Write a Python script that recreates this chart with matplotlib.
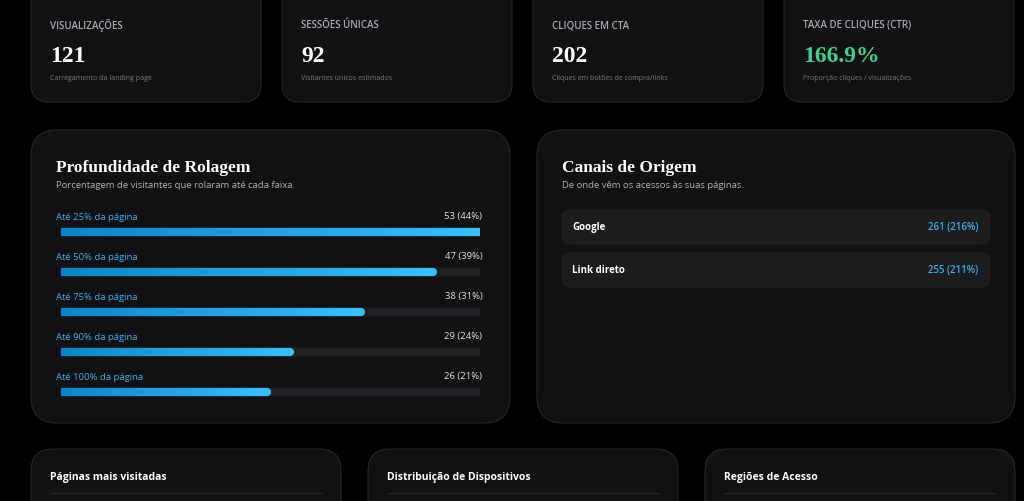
import matplotlib
matplotlib.use("Agg")
import matplotlib.pyplot as plt
from matplotlib.patches import FancyBboxPatch
import numpy as np

kpi_labels = ["VISUALIZAÇÕES", "SESSÕES ÚNICAS", "CLIQUES EM CTA", "TAXA DE CLIQUES (CTR)"]
kpi_values = ["121", "92", "202", "166.9%"]
kpi_notes = ["Carregamento da landing page", "Visitantes únicos estimados",
             "Cliques em botões de compra/links", "Proporção cliques / visualizações"]
scroll_labels = ["Até 25% da página", "Até 50% da página", "Até 75% da página",
                 "Até 90% da página", "Até 100% da página"]
scroll_counts = [53, 47, 38, 29, 26]
scroll_pcts = [44, 39, 31, 24, 21]
channels = ["Google", "Link direto"]
channel_counts = [261, 255]
channel_pcts = [216, 211]
bottom_titles = ["Páginas mais visitadas", "Distribuição de Dispositivos", "Regiões de Acesso"]

W, H = 1024, 502
fig = plt.figure(figsize=(W/100, H/100), dpi=100, facecolor="#000000")
ax = fig.add_axes([0, 0, 1, 1])
ax.set_xlim(0, W); ax.set_ylim(H, 0); ax.axis("off")
ax.set_facecolor("#000000")

SANS = ["Open Sans", "DejaVu Sans"]
SERIF = ["Liberation Serif", "DejaVu Serif"]

def card(x0, y0, x1, y1, r=18):
    ax.add_patch(FancyBboxPatch((x0, y0), x1-x0, y1-y0,
                 boxstyle=f"round,pad=0,rounding_size={r}",
                 fc="#111113", ec="#26262a", lw=0.8, mutation_aspect=1))

kx = [31, 282, 533, 784]
for i in range(4):
    card(kx[i], -20, kx[i]+230, 103)
    ax.text(kx[i]+19, 26, kpi_labels[i], color="#a8a8ae", fontsize=7, family=SANS, va="center", fontweight="semibold")
    ax.text(kx[i]+19, 57, kpi_values[i], color="#3ecf8e" if i == 3 else "white",
            fontsize=17, family=SERIF, fontweight="bold", va="center")
    ax.text(kx[i]+19, 79, kpi_notes[i], color="#7a7a80", fontsize=5, family=SANS, va="center")

card(31, 131, 510, 424, 26)
card(537, 131, 1015, 424, 26)
ax.text(56, 168, "Profundidade de Rolagem", color="white", fontsize=12.5, family=SERIF, fontweight="bold", va="center")
ax.text(56, 186, "Porcentagem de visitantes que rolaram até cada faixa.", color="#b0b0b5", fontsize=6.8, family=SANS, va="center")
ax.text(562, 168, "Canais de Origem", color="white", fontsize=12.5, family=SERIF, fontweight="bold", va="center")
ax.text(562, 186, "De onde vêm os acessos às suas páginas.", color="#b0b0b5", fontsize=6.8, family=SANS, va="center")

for i, (c, n, p) in enumerate(zip(channels, channel_counts, channel_pcts)):
    y0 = 211 + i*43
    ax.add_patch(FancyBboxPatch((562, y0), 428, 34, boxstyle="round,pad=0,rounding_size=8",
                 fc="#1c1c1f", ec="#222226", lw=0.6))
    ax.text(572, y0+17, c, color="white", fontsize=7, family=SANS, fontweight="bold", va="center")
    ax.text(978, y0+17, f"{n} ({p}%)", color="#38aee6", fontsize=7, family=SANS, va="center", ha="right", fontweight="semibold")

bx = [31, 368, 705]
for i in range(3):
    card(bx[i], 450, bx[i]+310, 540, 22)
    ax.text(bx[i]+19, 478, bottom_titles[i], color="white", fontsize=7.5, family=SANS, fontweight="bold", va="center")
    ax.plot([bx[i]+19, bx[i]+291], [494, 494], color="#26262a", lw=0.8)

ax2 = fig.add_axes([61/W, 1-413/H, 419/W, 200/H])
ax2.axis("off")
ax2.set_xlim(0, max(scroll_counts)); ax2.set_ylim(4.5, -0.5)
ax2.patch.set_alpha(0)
n = len(scroll_counts)
for i in range(n):
    ax2.plot([0, max(scroll_counts)], [i, i], color="#1f1f23", lw=6, solid_capstyle="round")
    segs = np.linspace(0, scroll_counts[i], 40)
    for k in range(len(segs)-1):
        t = k/(len(segs)-2)
        c = (0.04+0.18*t, 0.52+0.22*t, 0.78+0.19*t)
        ax2.plot([segs[k], segs[k+1]], [i, i], color=c, lw=6,
                 solid_capstyle="round" if k in (0, len(segs)-2) else "butt")
for i in range(n):
    ax2.text(-0.6, i-0.4, scroll_labels[i], color="#38aee6", fontsize=6.8, family=SANS, va="center", clip_on=False)
    ax2.text(max(scroll_counts)+0.3, i-0.4, f"{scroll_counts[i]} ({scroll_pcts[i]}%)", color="#e0e0e0",
             fontsize=6.8, family=SANS, va="center", ha="right", clip_on=False)

fig.savefig("out.png", dpi=100, facecolor="#000000")
